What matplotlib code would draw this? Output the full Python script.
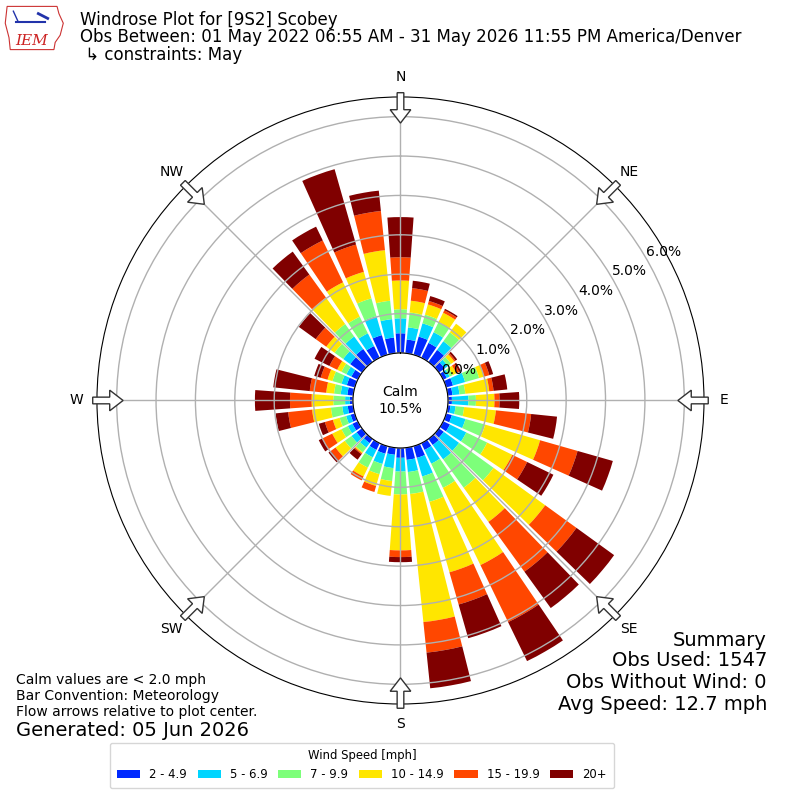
import numpy as np
import matplotlib
matplotlib.use("Agg")
import matplotlib.pyplot as plt
from matplotlib.patches import Patch, FancyArrow, Polygon

# ---------------- data ----------------
directions = list(range(0, 360, 10))  # degrees, meteorological (from)
speed_labels = ["2 - 4.9", "5 - 6.9", "7 - 9.9", "10 - 14.9", "15 - 19.9", "20+"]
dir_labels = ["N", "NE", "E", "SE", "S", "SW", "W", "NW"]
# percent frequency per direction for each speed bin
bin_2_5 = [0.50, 0.35, 0.48, 0.42, 0.38, 0.18, 0.10, 0.18, 0.12, 0.10,
           0.07, 0.15, 0.19, 0.15, 0.19, 0.19, 0.31, 0.31, 0.25,
           0.18, 0.20, 0.19, 0.13, 0.17, 0.15, 0.11, 0.14, 0.08,
           0.15, 0.21, 0.18, 0.37, 0.41, 0.33, 0.52, 0.40]
bin_5_7 = [0.38, 0.31, 0.35, 0.30, 0.27, 0.10, 0.08, 0.32, 0.18, 0.42,
           0.13, 0.36, 0.46, 0.48, 0.45, 0.39, 0.49, 0.31, 0.35,
           0.34, 0.27, 0.21, 0.14, 0.16, 0.13, 0.12, 0.14, 0.12,
           0.17, 0.14, 0.14, 0.22, 0.39, 0.36, 0.50, 0.47]
bin_7_10 = [0.23, 0.38, 0.23, 0.29, 0.28, 0.10, 0.09, 0.37, 0.15, 0.19,
            0.22, 0.52, 0.59, 1.08, 0.89, 0.68, 0.67, 0.56, 0.58,
            0.33, 0.27, 0.29, 0.15, 0.21, 0.18, 0.17, 0.29, 0.30,
            0.17, 0.24, 0.14, 0.27, 0.39, 0.47, 0.47, 0.47]
bin_10_15 = [0.73, 0.30, 0.27, 0.26, 0.27, 0.10, 0.10, 0.13, 0.61, 0.47,
             0.81, 1.45, 0.71, 1.62, 1.07, 2.18, 1.86, 3.27, 1.42,
             0.38, 0.31, 0.25, 0.03, 0.29, 0.26, 0.18, 0.48, 0.55,
             0.20, 0.13, 0.12, 0.26, 0.83, 0.97, 0.70, 1.29]
bin_15_20 = [0.59, 0.32, 0.09, 0.07, 0.00, 0.04, 0.08, 0.14, 0.11, 0.13,
             0.90, 0.99, 0.42, 0.98, 1.56, 1.61, 0.85, 0.78, 0.17,
             0.00, 0.16, 0.11, 0.03, 0.15, 0.28, 0.21, 0.61, 0.55,
             0.42, 0.18, 0.22, 0.33, 0.72, 1.18, 0.72, 1.00]
bin_20p = [1.02, 0.19, 0.13, 0.04, 0.00, 0.05, 0.05, 0.10, 0.35, 0.50,
           0.66, 0.93, 0.74, 1.18, 1.14, 1.10, 0.89, 0.91, 0.13,
           0.00, 0.00, 0.00, 0.17, 0.07, 0.10, 0.16, 0.32, 0.89,
           0.93, 0.17, 0.42, 0.53, 0.72, 0.39, 1.99, 0.52]
calm_pct = 10.5
r_ticks = [0, 1, 2, 3, 4, 5, 6]
r_max = 6.5

bins = [bin_2_5, bin_5_7, bin_7_10, bin_10_15, bin_15_20, bin_20p]
colors = plt.cm.jet(np.arange(1, 7) / 6.0)

# ---------------- figure ----------------
fig = plt.figure(figsize=(8, 8), dpi=100)
ax = fig.add_axes([0.1212, 0.1200, 0.7588, 0.7588], projection="polar")
ax.set_theta_zero_location("N")
ax.set_theta_direction(-1)

theta = np.deg2rad(directions)
width = np.deg2rad(8.2)
bottom = np.zeros(len(directions))
for vals, col in zip(bins, colors):
    v = np.array(vals)
    ax.bar(theta, v, width=width, bottom=bottom, color=col, edgecolor="none",
           align="center")
    bottom = bottom + v

ax.set_rorigin(-1.206)
ax.set_ylim(0, r_max)
ax.set_thetagrids(np.arange(0, 360, 45), dir_labels, fontsize=10)
ax.set_rgrids(r_ticks, [f"{v:.1f}%" for v in r_ticks], angle=60, fontsize=10)
ax.tick_params(axis="x", pad=4)
ax.grid(True, color="#b0b0b0", linewidth=1)

# calm text in the hole
ax.text(0.5, 0.5, f"Calm\n{calm_pct:.1f}%", transform=ax.transAxes,
        ha="center", va="center", fontsize=10)

# flow arrows around the edge, pointing to the center
for ang in np.arange(0, 360, 45):
    a = np.deg2rad(ang)
    s, c = np.sin(a), np.cos(a)
    r0 = 0.507
    L = 0.050
    arr = FancyArrow(0.5 + r0 * s, 0.5 + r0 * c, -L * s, -L * c,
                     width=0.011, head_width=0.034, head_length=0.022,
                     length_includes_head=True, transform=ax.transAxes,
                     facecolor="white", edgecolor="#333333", linewidth=1.0,
                     clip_on=False, zorder=10)
    ax.add_artist(arr)

# header
fig.text(0.100, 1 - 20 / 800, "Windrose Plot for [9S2] Scobey", fontsize=12,
         va="center", ha="left")
fig.text(0.100, 1 - 37.5 / 800,
         "Obs Between: 01 May 2022 06:55 AM - 31 May 2026 11:55 PM America/Denver",
         fontsize=12, va="center", ha="left")
fig.text(0.100, 1 - 55 / 800, " \u21b3 constraints: May", fontsize=12,
         va="center", ha="left")

# logo approximation
lax = fig.add_axes([0.005, 0.935, 0.078, 0.06])
lax.set_xlim(0, 1)
lax.set_ylim(0, 1)
lax.axis("off")
lax.add_patch(Polygon([[0.05, 0.95], [0.85, 0.95], [0.88, 0.8], [0.95, 0.6],
                       [0.9, 0.35], [0.82, 0.2], [0.8, 0.05], [0.1, 0.05],
                       [0.08, 0.3], [0.02, 0.6], [0.05, 0.95]],
                      closed=True, fill=False, edgecolor="#cc3333", lw=0.8))
lax.plot([0.2, 0.65], [0.62, 0.62], color="#2233aa", lw=1.5)
lax.plot([0.55, 0.7], [0.8, 0.7], color="#2233aa", lw=2)
lax.plot([0.15, 0.22], [0.85, 0.65], color="#2233aa", lw=1)
lax.text(0.45, 0.22, "IEM", color="#cc2222", fontsize=11, style="italic",
         family="DejaVu Serif", ha="center", va="center")

# bottom-left notes
fig.text(16 / 800, 1 - 680 / 800, "Calm values are < 2.0 mph", fontsize=10,
         va="center", ha="left")
fig.text(16 / 800, 1 - 696 / 800, "Bar Convention: Meteorology", fontsize=10,
         va="center", ha="left")
fig.text(16 / 800, 1 - 712 / 800, "Flow arrows relative to plot center.",
         fontsize=10, va="center", ha="left")
fig.text(16 / 800, 1 - 730 / 800, "Generated: 05 Jun 2026", fontsize=14,
         va="center", ha="left")

# summary
for y, t in zip([640, 661, 682, 705],
                ["Summary", "Obs Used: 1547", "Obs Without Wind: 0",
                 "Avg Speed: 12.7 mph"]):
    fig.text(767 / 800, 1 - y / 800, t, fontsize=14, va="center", ha="right")

handles = [Patch(facecolor=c, edgecolor="none", label=l)
           for c, l in zip(colors, speed_labels)]
fig.legend(handles=handles, loc="lower center",
           bbox_to_anchor=(362 / 800, 6 / 800), ncol=6,
           title="Wind Speed [mph]", fontsize="small", title_fontsize="small",
           columnspacing=0.9, borderpad=0.6)

fig.savefig("out.png", dpi=100)
